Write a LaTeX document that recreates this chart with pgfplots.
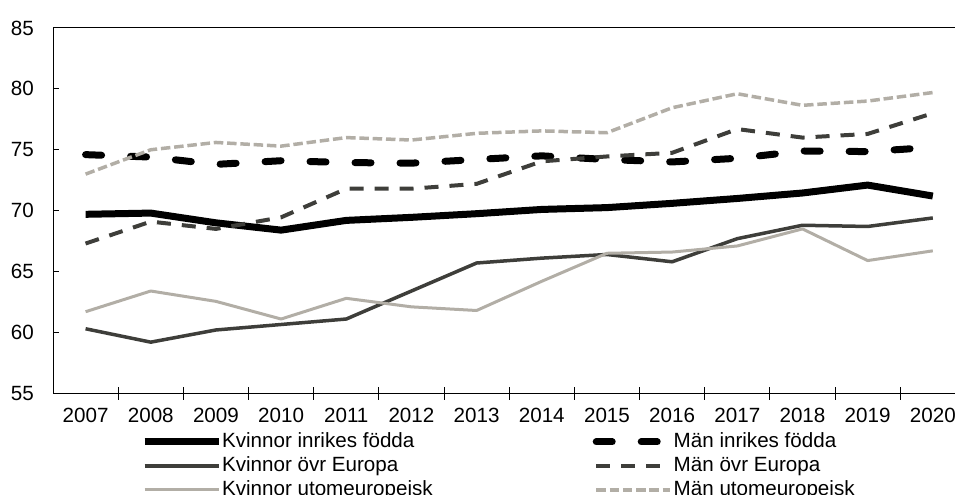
\documentclass[border=0pt]{standalone}
\usepackage{fontspec}
\setmainfont{Liberation Sans}
\usepackage{pgfplots}
\pgfplotsset{compat=1.18}
\definecolor{dgray}{RGB}{62,62,58}
\definecolor{lgray}{RGB}{178,174,166}
\newcommand{\cf}{\fontsize{20.6bp}{24bp}\selectfont}
\begin{document}
\cf
\begin{tikzpicture}
\begin{axis}[
  at={(53bp,101.7bp)}, anchor=south west,
  scale only axis, width=912.4bp, height=365.3bp,
  xmin=-0.5, xmax=13.5, ymin=55, ymax=85,
  xtick={0,...,13},
  xticklabels={2007,2008,2009,2010,2011,2012,2013,2014,2015,2016,2017,2018,2019,2020},
  minor xtick={0.5,1.5,...,12.5},
  ytick={55,60,...,85},
  xtick pos=bottom, ytick pos=left,
  tick align=inside,
  major tick length=6bp, minor tick length=13bp,
  major x tick style={draw=none},
  minor x tick style={yshift=-6.5bp},
  tick style={black, line width=1bp},
  axis line style={line width=1bp},
  /pgf/number format/assume math mode=true,
  tick label style={font=\cf},
  xticklabel style={anchor=north, inner sep=0pt, yshift=-14.7bp},
  yticklabel style={anchor=east, inner sep=0pt, xshift=-19bp},
  legend columns=2,
  legend cell align=left,
  legend image code/.code={\draw[#1] (0bp,0bp) -- (74bp,0bp);},
  legend style={draw=none, fill=none, inner sep=0pt, outer sep=0pt,
    at={(0.0965,-0.107)}, anchor=north west, row sep=5bp,
    font=\cf,
    nodes={inner sep=0pt, text height=15bp, text depth=4bp},
    /tikz/every odd column/.append style={column sep=0bp},
    /tikz/every even column/.append style={column sep=160bp}},
]
\addplot[black, line width=7bp, line join=round] coordinates {
(0,69.7) (1,69.8) (2,69.0) (3,68.4) (4,69.2) (5,69.45) (6,69.75) (7,70.1) (8,70.25) (9,70.6) (10,71.0) (11,71.45) (12,72.1) (13,71.2)};
\addlegendentry{Kvinnor inrikes födda}
\addplot[black, line width=7bp, line cap=round, dash pattern=on 16bp off 29bp] coordinates {
(0,74.6) (1,74.4) (2,73.8) (3,74.1) (4,73.95) (5,73.9) (6,74.2) (7,74.5) (8,74.2) (9,74.0) (10,74.3) (11,74.9) (12,74.85) (13,75.2)};
\addlegendentry{Män inrikes födda}
\addplot[dgray, line width=3.5bp, line join=round] coordinates {
(0,60.3) (1,59.2) (2,60.2) (3,60.65) (4,61.1) (5,63.4) (6,65.7) (7,66.1) (8,66.4) (9,65.8) (10,67.7) (11,68.8) (12,68.7) (13,69.4)};
\addlegendentry{Kvinnor övr Europa}
\addplot[dgray, line width=4bp, dash pattern=on 14bp off 11bp] coordinates {
(0,67.3) (1,69.1) (2,68.5) (3,69.45) (4,71.8) (5,71.8) (6,72.2) (7,74.05) (8,74.45) (9,74.75) (10,76.7) (11,76.0) (12,76.3) (13,78.0)};
\addlegendentry{Män övr Europa}
\addplot[lgray, line width=3bp, line join=round] coordinates {
(0,61.7) (1,63.4) (2,62.55) (3,61.1) (4,62.8) (5,62.1) (6,61.8) (7,64.2) (8,66.5) (9,66.6) (10,67.1) (11,68.5) (12,65.9) (13,66.7)};
\addlegendentry{Kvinnor utomeuropeisk}
\addplot[lgray, line width=3.5bp, dash pattern=on 9.5bp off 3.8bp] coordinates {
(0,73.0) (1,75.0) (2,75.6) (3,75.3) (4,76.0) (5,75.8) (6,76.35) (7,76.55) (8,76.4) (9,78.45) (10,79.6) (11,78.65) (12,79.0) (13,79.7)};
\addlegendentry{Män utomeuropeisk}
\end{axis}
\pgfresetboundingbox
\path[use as bounding box] (0,0) rectangle (955bp,495bp);
\end{tikzpicture}
\end{document}
